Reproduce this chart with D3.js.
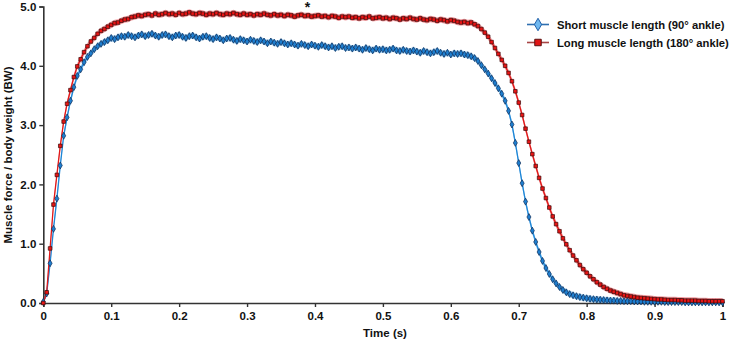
<!DOCTYPE html>
<html><head><meta charset="utf-8">
<script src="https://cdn.jsdelivr.net/npm/d3@7"></script>
<style>
html,body{margin:0;padding:0;background:#fff;}
text{font-family:"Liberation Sans",Arial,sans-serif;font-weight:bold;fill:#111;}
</style></head>
<body><svg id="c" width="737" height="342"></svg>
<script>
// sampling grid: 0 to 1 s every 0.005 s (201 samples)
const time = d3.range(201).map(i => i / 200);
const xTicks = [0, 0.1, 0.2, 0.3, 0.4, 0.5, 0.6, 0.7, 0.8, 0.9, 1];
const xTickLabels = ["0", "0.1", "0.2", "0.3", "0.4", "0.5", "0.6", "0.7", "0.8", "0.9", "1"];
const yTicks = [0, 1, 2, 3, 4, 5];
const seriesNames = ["Short muscle length (90° ankle)", "Long muscle length (180° ankle)"];
const bandHalfWidth = [0.055, 0.055];

const shortForce = [
0.02,0.16,0.67,1.25,1.76,2.32,2.82,3.13,3.41,3.64,
3.83,3.94,4.06,4.15,4.21,4.28,4.33,4.37,4.40,4.43,
4.47,4.45,4.48,4.50,4.49,4.52,4.50,4.48,4.51,4.53,
4.50,4.52,4.54,4.51,4.49,4.52,4.53,4.50,4.48,4.51,
4.52,4.49,4.47,4.50,4.51,4.48,4.46,4.49,4.50,4.47,
4.45,4.48,4.46,4.43,4.46,4.47,4.44,4.42,4.45,4.43,
4.41,4.44,4.42,4.40,4.43,4.41,4.38,4.41,4.39,4.37,
4.40,4.38,4.36,4.38,4.36,4.34,4.37,4.35,4.33,4.36,
4.34,4.32,4.35,4.33,4.31,4.33,4.30,4.32,4.33,4.30,
4.31,4.29,4.31,4.29,4.27,4.30,4.28,4.26,4.29,4.27,
4.28,4.26,4.27,4.29,4.26,4.25,4.27,4.25,4.24,4.26,
4.24,4.22,4.25,4.23,4.21,4.23,4.25,4.22,4.20,4.22,
4.19,4.21,4.20,4.21,4.19,4.18,4.16,4.13,4.08,4.01,
3.94,3.87,3.79,3.71,3.62,3.53,3.41,3.24,3.01,2.70,
2.36,2.02,1.71,1.45,1.22,1.03,0.86,0.71,0.59,0.49,
0.40,0.33,0.27,0.22,0.18,0.15,0.13,0.115,0.10,0.09,
0.08,0.07,0.065,0.06,0.055,0.05,0.045,0.04,0.04,0.035,
0.035,0.03,0.03,0.03,0.025,0.025,0.025,0.02,0.02,0.02,
0.02,0.02,0.02,0.015,0.015,0.015,0.015,0.015,0.015,0.01,
0.01,0.01,0.01,0.01,0.01,0.01,0.01,0.01,0.01,0.01,
0.01];

const longForce = [
0.00,0.18,0.92,1.66,2.16,2.65,3.06,3.36,3.59,3.81,
3.99,4.11,4.23,4.33,4.41,4.47,4.54,4.59,4.62,4.66,
4.69,4.72,4.73,4.76,4.78,4.79,4.82,4.83,4.85,4.84,
4.86,4.87,4.85,4.88,4.86,4.87,4.89,4.87,4.88,4.86,
4.89,4.87,4.88,4.90,4.88,4.87,4.89,4.88,4.86,4.88,
4.87,4.89,4.87,4.86,4.88,4.87,4.89,4.87,4.86,4.88,
4.86,4.87,4.85,4.87,4.86,4.88,4.86,4.85,4.87,4.85,
4.86,4.84,4.86,4.85,4.83,4.85,4.86,4.84,4.85,4.83,
4.84,4.85,4.83,4.84,4.82,4.84,4.83,4.81,4.83,4.82,
4.83,4.81,4.82,4.80,4.82,4.81,4.83,4.80,4.81,4.82,
4.80,4.81,4.79,4.81,4.80,4.78,4.80,4.79,4.81,4.79,
4.78,4.80,4.78,4.77,4.79,4.78,4.76,4.78,4.77,4.75,
4.77,4.76,4.74,4.73,4.74,4.72,4.73,4.70,4.67,4.62,
4.56,4.49,4.40,4.30,4.20,4.10,4.00,3.88,3.74,3.57,
3.38,3.17,2.94,2.72,2.51,2.31,2.11,1.93,1.77,1.61,
1.46,1.33,1.21,1.09,0.99,0.89,0.80,0.72,0.64,0.57,
0.51,0.45,0.40,0.35,0.31,0.27,0.24,0.21,0.19,0.17,
0.15,0.13,0.12,0.11,0.10,0.09,0.085,0.08,0.075,0.07,
0.065,0.06,0.06,0.055,0.05,0.05,0.05,0.045,0.045,0.04,
0.04,0.04,0.04,0.035,0.035,0.035,0.03,0.03,0.03,0.03,
0.03];

const svg = d3.select("#c");
const x = d3.scaleLinear().domain([0, 1]).range([43.3, 722.5]);
const y = d3.scaleLinear().domain([0, 5]).range([303, 6.5]);

const styles = [
  {line:"#1f86d6", band:"rgba(110,185,240,0.7)", fill:"#1e7fd0", stroke:"#0d2a55", legLine:"#2f6fb0", legFill:"#6fb8f0", legStroke:"#1f5fa8"},
  {line:"#e01818", band:"rgba(235,105,110,0.65)", fill:"#e81515", stroke:"#3a0a0a", legLine:"#a84545", legFill:"#e01515", legStroke:"#5a1010"}
];
const series = [shortForce, longForce];

// bands
series.forEach((vals, s) => {
  const area = d3.area().x((d,i)=>x(time[i])).y0((d)=>y(Math.max(0,d-bandHalfWidth[s]))).y1((d)=>y(d+bandHalfWidth[s]));
  svg.append("path").datum(vals).attr("d", area).attr("fill", styles[s].band);
});

// axes
const gx = svg.append("g").attr("transform", `translate(0,${y(0)})`)
  .call(d3.axisBottom(x).tickValues(xTicks).tickFormat((d,i)=>xTickLabels[i]).tickSize(4).tickPadding(5));
const gy = svg.append("g").attr("transform", `translate(${x(0)},0)`)
  .call(d3.axisLeft(y).tickValues(yTicks).tickFormat(d3.format(".1f")).tickSize(4).tickPadding(3));
[gx, gy].forEach(g => {
  g.select(".domain").attr("stroke", "#333").attr("stroke-width", 1.6);
  g.selectAll(".tick line").attr("stroke", "#333").attr("stroke-width", 1.4);
  g.selectAll(".tick text").attr("font-size", 11.5).attr("font-family", "Liberation Sans, Arial, sans-serif").attr("font-weight","bold").attr("fill","#111");
});

// lines + markers
series.forEach((vals, s) => {
  const line = d3.line().x((d,i)=>x(time[i])).y(d=>y(d));
  svg.append("path").datum(vals).attr("d", line).attr("fill","none").attr("stroke", styles[s].line).attr("stroke-width", 1.3);
});
series.forEach((vals, s) => {
  const g = svg.append("g");
  const sym = s === 0 ? d3.symbolDiamond : d3.symbolSquare;
  const size = s === 0 ? 14 : 13;
  g.selectAll("path").data(vals).join("path")
    .attr("transform", (d,i)=>`translate(${x(time[i])},${y(d)})`)
    .attr("d", d3.symbol().type(sym).size(size))
    .attr("fill", styles[s].fill).attr("stroke", styles[s].stroke).attr("stroke-width", 0.7);
});

// asterisk
svg.append("text").attr("x", 307.5).attr("y", 12).attr("text-anchor","middle").attr("font-size", 14).text("*");

// axis titles
svg.append("text").attr("x", 385).attr("y", 337).attr("text-anchor","middle").attr("font-size", 11.5).text("Time (s)");
svg.append("text").attr("transform", "translate(12,155) rotate(-90)").attr("text-anchor","middle").attr("font-size", 11.5).text("Muscle force / body weight (BW)");

// legend
const leg = svg.append("g");
const legTexts = [];
seriesNames.forEach((name, s) => {
  const cy = s === 0 ? 24.5 : 42.5;
  leg.append("line").attr("x1", 527).attr("x2", 549).attr("y1", cy).attr("y2", cy).attr("stroke", styles[s].legLine).attr("stroke-width", 1.6);
  leg.append("path").attr("transform", `translate(538,${cy})`)
    .attr("d", d3.symbol().type(s === 0 ? d3.symbolDiamond : d3.symbolSquare).size(s === 0 ? 45 : 42))
    .attr("fill", styles[s].legFill).attr("stroke", styles[s].legStroke).attr("stroke-width", 1);
  legTexts.push(leg.append("text").attr("x", 557).attr("y", cy + 4.2).attr("font-size", 12).text(name));
});
// fit the longer legend entry to the reference's width (557 to 730)
const widest = d3.max(legTexts, t => t.node().getComputedTextLength());
const fs = Math.min(12, 12 * 172 / widest);
legTexts.forEach(t => t.attr("font-size", fs));
</script></body></html>
